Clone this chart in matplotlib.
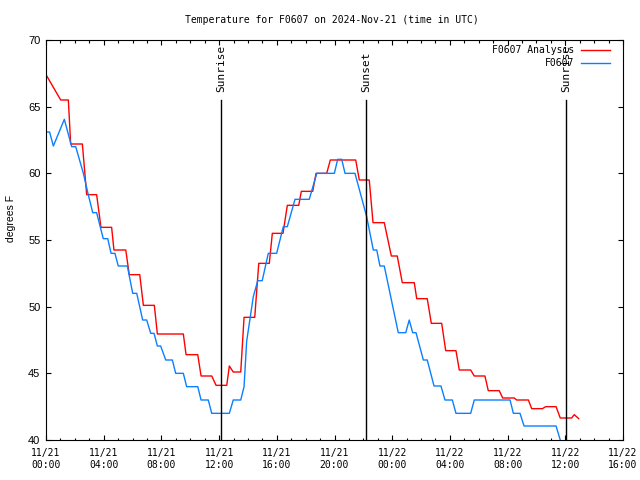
import matplotlib
matplotlib.use("Agg")
import matplotlib.pyplot as plt

# hours since 2024-11-21 00:00 UTC
analysis_hours = [0.00, 1.02, 1.55, 1.71, 2.52, 2.82, 3.51, 3.81, 4.55, 4.71,
                  5.53, 5.77, 6.50, 6.75, 7.51, 7.72, 9.52, 9.71, 10.52, 10.75,
                  11.49, 11.79, 12.53, 12.71, 12.98, 13.50, 13.73, 14.47, 14.75, 15.48,
                  15.69, 16.43, 16.73, 17.52, 17.70, 18.49, 18.72, 19.46, 19.71, 21.47,
                  21.72, 22.41, 22.67, 23.45, 23.94, 24.35, 24.70, 25.53, 25.70, 26.43,
                  26.71, 27.43, 27.71, 28.42, 28.65, 29.44, 29.69, 30.43, 30.66, 31.42,
                  31.66, 32.46, 32.63, 33.44, 33.67, 34.41, 34.64, 35.36, 35.65, 36.44,
                  36.62, 36.93]
analysis_temp = [67.4, 65.5, 65.5, 62.2, 62.2, 58.4, 58.4, 55.95, 55.95, 54.25,
                 54.25, 52.4, 52.4, 50.1, 50.1, 47.95, 47.95, 46.4, 46.4, 44.8,
                 44.8, 44.1, 44.1, 45.55, 45.1, 45.1, 49.2, 49.2, 53.25, 53.25,
                 55.5, 55.5, 57.6, 57.6, 58.65, 58.65, 60.0, 60.0, 61.0, 61.0,
                 59.5, 59.5, 56.3, 56.3, 53.8, 53.8, 51.8, 51.8, 50.6, 50.6,
                 48.75, 48.75, 46.7, 46.7, 45.25, 45.25, 44.8, 44.8, 43.7, 43.7,
                 43.15, 43.15, 43.0, 43.0, 42.35, 42.35, 42.5, 42.5, 41.65, 41.65,
                 41.9, 41.6]

obs_hours = [0.00, 0.25, 0.51, 1.27, 1.78, 2.06, 2.59, 2.93, 3.24, 3.51,
             3.97, 4.28, 4.51, 4.78, 5.01, 5.64, 6.01, 6.29, 6.70, 6.98,
             7.26, 7.49, 7.72, 7.95, 8.30, 8.76, 8.99, 9.52, 9.75, 10.52,
             10.75, 11.25, 11.49, 12.71, 12.98, 13.50, 13.73, 13.91, 14.37, 14.68,
             14.99, 15.41, 15.99, 16.45, 16.73, 17.26, 18.25, 18.77, 19.99, 20.22,
             20.50, 20.73, 21.42, 22.23, 22.69, 22.93, 23.15, 23.45, 24.42, 24.94,
             25.18, 25.42, 25.65, 26.16, 26.43, 26.90, 27.38, 27.66, 28.17, 28.42,
             29.44, 29.69, 32.17, 32.40, 32.86, 33.14, 35.36, 35.65]
obs_temp = [63.1, 63.1, 62.05, 64.05, 62.0, 62.0, 60.0, 58.4, 57.05, 57.05,
            55.1, 55.1, 54.0, 54.0, 53.05, 53.05, 51.0, 51.0, 49.0, 49.0,
            48.0, 48.0, 47.05, 47.05, 46.0, 46.0, 45.0, 45.0, 44.0, 44.0,
            43.0, 43.0, 42.0, 42.0, 43.0, 43.0, 44.0, 47.4, 50.75, 51.95,
            51.95, 54.0, 54.0, 56.0, 56.0, 58.05, 58.05, 60.0, 60.0, 61.05,
            61.05, 60.0, 60.0, 56.75, 54.25, 54.25, 53.05, 53.05, 48.05, 48.05,
            49.0, 48.05, 48.05, 46.0, 46.0, 44.05, 44.05, 43.0, 43.0, 42.0,
            42.0, 43.0, 43.0, 42.0, 42.0, 41.05, 41.05, 40.0]

sun_events = ["Sunrise", "Sunset", "Sunrise"]
sun_hours = [12.13, 22.18, 36.05]

tick_hours = [0, 4, 8, 12, 16, 20, 24, 28, 32, 36, 40]
tick_labels = ["11/21\n00:00", "11/21\n04:00", "11/21\n08:00", "11/21\n12:00",
               "11/21\n16:00", "11/21\n20:00", "11/22\n00:00", "11/22\n04:00",
               "11/22\n08:00", "11/22\n12:00", "11/22\n16:00"]

mono = "DejaVu Sans Mono"
sans = "Liberation Sans"

fig = plt.figure(figsize=(6.4, 4.8), dpi=100)
ax = fig.add_axes([46 / 640, 40 / 480, 577 / 640, 400 / 480])

ax.plot(analysis_hours, analysis_temp, color="#ff0000", lw=1.0, label="F0607 Analysis")
ax.plot(obs_hours, obs_temp, color="#0a80ff", lw=1.0, label="F0607")

for name, h in zip(sun_events, sun_hours):
    ax.plot([h, h], [40, 65.5], color="black", lw=1.0)
    ax.text(h, 66.1, name, rotation=90, ha="center", va="bottom",
            fontsize=8, family=mono)

ax.set_xlim(0, 40)
ax.set_ylim(40, 70)
ax.set_xticks(tick_hours)
ax.set_xticklabels(tick_labels, family=mono, fontsize=7, linespacing=1.25)
ax.set_xticks(range(0, 41), minor=True)
ax.set_yticks([40, 45, 50, 55, 60, 65, 70])
for lab in ax.get_yticklabels():
    lab.set_family(sans)
    lab.set_fontsize(8)
ax.tick_params(which="both", direction="in", top=True, right=True, width=0.8)
ax.tick_params(which="major", length=3.5, pad=4)
ax.tick_params(axis="x", which="major", pad=6)
ax.tick_params(which="minor", length=1.8)
for sp in ax.spines.values():
    sp.set_linewidth(0.8)

fig.text(11 / 640, 1 - 218 / 480, "degrees F", rotation=90, ha="center", va="center",
         family=sans, fontsize=7.5)
fig.text(332 / 640, 1 - 20 / 480, "Temperature for F0607 on 2024-Nov-21 (time in UTC)",
         ha="center", va="center", family=mono, fontsize=7)

leg = ax.legend(loc="upper right", bbox_to_anchor=(610 / 640, 1 - 45 / 480),
                bbox_transform=fig.transFigure, frameon=False, markerfirst=False,
                prop={"family": mono, "size": 7}, handlelength=3.0,
                handletextpad=0.7, labelspacing=0.3, borderpad=0, borderaxespad=0)
for t in leg.get_texts():
    t.set_ha("right")

fig.savefig("out.png", dpi=100)
